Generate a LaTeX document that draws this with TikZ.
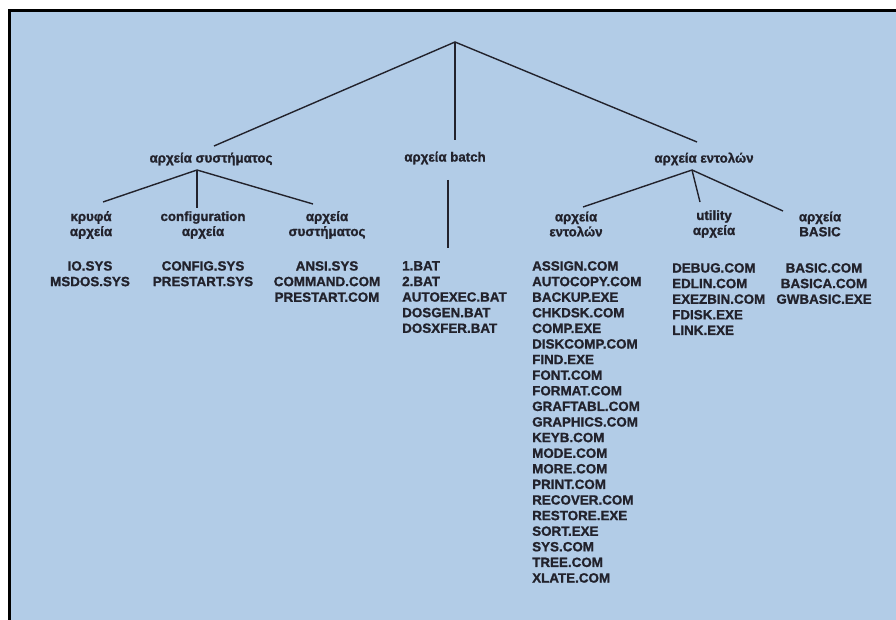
\documentclass[tikz,border=0pt]{standalone}
\usepackage{fontspec}
\setmainfont{Liberation Sans}
\newfontfamily\dfont{Liberation Sans}[UprightFont={Liberation Sans Bold}, UprightFeatures={FakeBold=1.2}]
\definecolor{bgblue}{RGB}{178,204,231}
\definecolor{ink}{RGB}{34,34,44}
\begin{document}
\begin{tikzpicture}[x=1pt,y=-1pt,
  lbl/.style={font=\dfont\fontsize{13.3}{15}\selectfont, text=ink, inner sep=0pt, align=center},
  files/.style={font=\dfont\fontsize{13.4}{15.6}\selectfont, text=ink, inner sep=0pt, anchor=north},
  branch/.style={draw=ink, line width=1.4pt}]
\useasboundingbox (0,0) rectangle (896,620);
\fill[white] (0,0) rectangle (896,620);
\fill[bgblue] (8,10) rectangle (896,620);
\draw[black, line width=3pt] (9,620) -- (9,11) -- (896,11);
% level 1
\coordinate (root) at (455,42);
\node[lbl] (sys) at (211,159) {αρχεία συστήματος};
\node[lbl] (bat) at (445,158) {αρχεία batch};
\node[lbl] (cmd) at (704,159) {αρχεία εντολών};
\coordinate (sysT) at (214,146);
\coordinate (batT) at (455,140);
\coordinate (cmdT) at (697,142);
\draw[branch] (sysT) -- (root) -- (cmdT);
\draw[branch] (root) -- (batT);
% left subtree
\coordinate (sysB) at (197,170);
\node[lbl] (hid) at (91,225) {κρυφά\\αρχεία};
\node[lbl] (cfg) at (203,225) {configuration\\αρχεία};
\node[lbl] (ssy) at (327,225) {αρχεία\\συστήματος};
\coordinate (hidT) at (103,202);
\coordinate (cfgT) at (197,208);
\coordinate (ssyT) at (313,204);
\draw[branch] (hidT) -- (sysB) -- (ssyT);
\draw[branch] (sysB) -- (cfgT);
\node[files, align=center] (hidF) at (90,261) {IO.SYS\\MSDOS.SYS};
\node[files, align=center] (cfgF) at (203,261) {CONFIG.SYS\\PRESTART.SYS};
\node[files, align=center] (ssyF) at (327,261) {ANSI.SYS\\COMMAND.COM\\PRESTART.COM};
% batch
\coordinate (batL1) at (448,180);
\coordinate (batL2) at (448,248);
\draw[draw=ink, line width=1.1pt] (batL1) -- (batL2);
\node[files, anchor=north west, align=left] (batF) at (402,261) {1.BAT\\2.BAT\\AUTOEXEC.BAT\\DOSGEN.BAT\\DOSXFER.BAT};
% right subtree
\coordinate (cmdB) at (692,170);
\node[lbl] (cmd2) at (576,224) {αρχεία\\εντολών};
\node[lbl] (utl) at (714,224) {utility\\αρχεία};
\node[lbl] (bas) at (820,224) {αρχεία\\BASIC};
\coordinate (cmd2T) at (583,207);
\coordinate (utlT) at (700,202);
\coordinate (basT) at (783,211);
\draw[branch] (cmd2T) -- (cmdB) -- (basT);
\draw[branch] (cmdB) -- (utlT);
\node[files, anchor=north west, align=left] (cmdF) at (532,261) {ASSIGN.COM\\AUTOCOPY.COM\\BACKUP.EXE\\CHKDSK.COM\\COMP.EXE\\DISKCOMP.COM\\FIND.EXE\\FONT.COM\\FORMAT.COM\\GRAFTABL.COM\\GRAPHICS.COM\\KEYB.COM\\MODE.COM\\MORE.COM\\PRINT.COM\\RECOVER.COM\\RESTORE.EXE\\SORT.EXE\\SYS.COM\\TREE.COM\\XLATE.COM};
\node[files, anchor=north west, align=left] (utlF) at (672,263) {DEBUG.COM\\EDLIN.COM\\EXEZBIN.COM\\FDISK.EXE\\LINK.EXE};
\node[files, align=center] (basF) at (824,263) {BASIC.COM\\BASICA.COM\\GWBASIC.EXE};
\end{tikzpicture}
\end{document}
